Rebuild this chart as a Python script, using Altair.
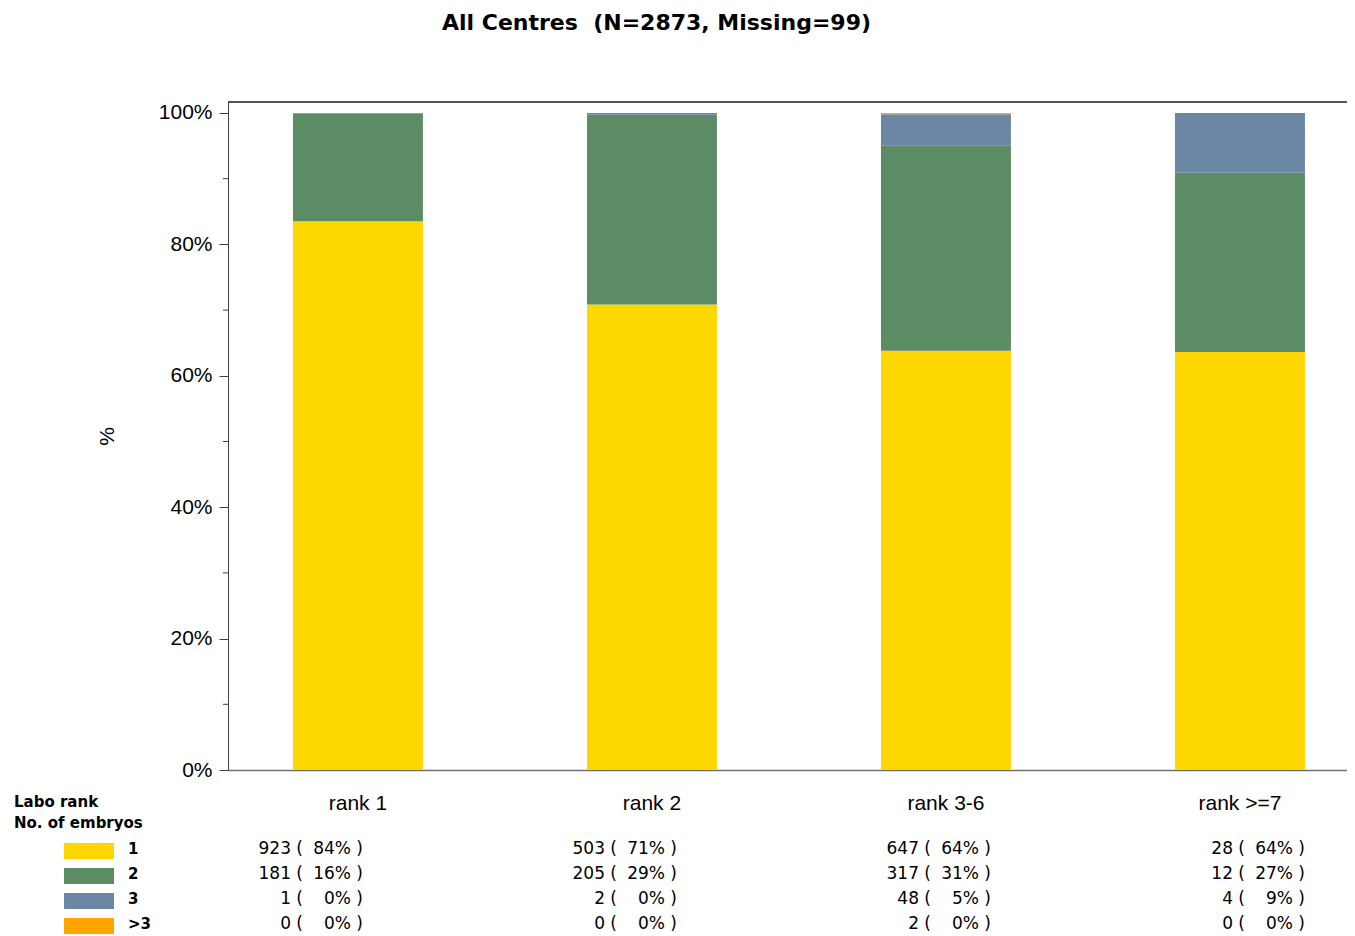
import altair as alt
import pandas as pd

# ---- data ----
categories = ["rank 1", "rank 2", "rank 3-6", "rank >=7"]
embryo_groups = ["1", "2", "3", ">3"]
counts_1 = [923, 503, 647, 28]
counts_2 = [181, 205, 317, 12]
counts_3 = [1, 2, 48, 4]
counts_gt3 = [0, 0, 2, 0]
colors = ["#FFD700", "#5B8C64", "#6C86A6", "#FFA500"]
title_text = "All Centres \u00a0(N=2873, Missing=99)"
header_text = "Labo rank\nNo. of embryos"
y_ticks = [0, 0.2, 0.4, 0.6, 0.8, 1.0]
y_minor = [0.1, 0.3, 0.5, 0.7, 0.9]

series = [counts_1, counts_2, counts_3, counts_gt3]
totals = [sum(s[i] for s in series) for i in range(len(categories))]
rows = []
for gi, (g, s) in enumerate(zip(embryo_groups, series)):
    for i, c in enumerate(categories):
        pct = int(100 * s[i] / totals[i] + 0.5)
        rows.append({
            "rank": c, "embryos": g, "count": s[i], "order": gi,
            "count_txt": f"{s[i]} (", "pct_txt": f"{pct}% )",
        })
df = pd.DataFrame(rows)
legend_df = pd.DataFrame({"embryos": embryo_groups})
minor_df = pd.DataFrame({"v": y_minor})
header_df = pd.DataFrame({"t": [header_text]})
one_df = pd.DataFrame({"k": [0]})

W, H = 1119, 668
YDOM = [0, 1.0167]
AX_FONT = "Liberation Sans"
TB_FONT = "DejaVu Sans"

x_enc = alt.X(
    "rank:N", sort=categories,
    scale=alt.Scale(paddingInner=0.558, paddingOuter=0.182, align=0.607),
    axis=alt.Axis(title=None, labelAngle=0, ticks=False, tickSize=0, labelPadding=22,
                  labelFontSize=21, labelFont=AX_FONT, labelColor="black",
                  domainColor="#707070", domainWidth=1.5),
)
# table columns (right edge of each column of the count table)
table_x = alt.X("rank:N", sort=categories,
                scale=alt.Scale(type="point", domain=categories, range=[135, 1077], padding=0),
                axis=None)
row_y = alt.Y("embryos:N", sort=embryo_groups,
              scale=alt.Scale(type="point", domain=embryo_groups, range=[747, 822], padding=0),
              axis=None)
color_enc = alt.Color("embryos:N", scale=alt.Scale(domain=embryo_groups, range=colors), legend=None)

bars = alt.Chart(df).mark_bar().encode(
    x=x_enc,
    y=alt.Y("count:Q", stack="normalize",
            scale=alt.Scale(domain=YDOM, nice=False, zero=True),
            axis=alt.Axis(values=y_ticks, format=".0%", tickSize=9, labelPadding=7,
                          labelFontSize=21, labelFont=AX_FONT, labelColor="black",
                          domainColor="#404040", tickColor="#404040", grid=False,
                          title="%", titleFont=AX_FONT, titleFontSize=21,
                          titleFontWeight="normal", titleAngle=-90, titleX=-121, titleY=334,
                          titleAlign="center", titleBaseline="middle", titleColor="black")),
    color=color_enc,
    order=alt.Order("order:Q", sort="ascending"),
)

minor = alt.Chart(minor_df).mark_rule(color="#404040").encode(
    y=alt.Y("v:Q", scale=alt.Scale(domain=YDOM, nice=False), axis=None),
    x=alt.value(-5), x2=alt.value(0),
)

top_line = alt.Chart(one_df).mark_rule(color="#222222", strokeWidth=1.5).encode(
    x=alt.value(0), x2=alt.value(W), y=alt.value(0),
)

count_txt = alt.Chart(df).mark_text(align="right", baseline="middle", dx=-60,
                                    fontSize=17, font=TB_FONT, color="black").encode(
    x=table_x, y=row_y, text="count_txt:N")
pct_txt = alt.Chart(df).mark_text(align="right", baseline="middle", dx=0,
                                  fontSize=17, font=TB_FONT, color="black").encode(
    x=table_x, y=row_y, text="pct_txt:N")

swatch = alt.Chart(legend_df).mark_point(
    shape="M-1,-0.32H1V0.32H-1Z", filled=True, size=2500, opacity=1, strokeWidth=0, yOffset=2
).encode(x=alt.value(-139), y=row_y, color=color_enc)

swatch_lbl = alt.Chart(legend_df).mark_text(align="left", baseline="middle", fontSize=15,
                                            font=TB_FONT, fontWeight="bold", color="black").encode(
    x=alt.value(-100), y=row_y, text="embryos:N")

header = alt.Chart(header_df).mark_text(align="left", baseline="alphabetic", fontSize=15,
                                        font=TB_FONT, fontWeight="bold", color="black",
                                        lineBreak="\n", lineHeight=20.5).encode(
    x=alt.value(-214), y=alt.value(705), text="t:N")

chart = alt.layer(
    bars, minor, top_line, count_txt, pct_txt, swatch, swatch_lbl, header
).resolve_scale(y="independent", x="independent").properties(
    width=W, height=H,
    title=alt.TitleParams(title_text, font=TB_FONT, fontSize=22, fontWeight="bold",
                          anchor="middle", dx=-131, baseline="alphabetic", offset=49,
                          color="black"),
    autosize=alt.AutoSizeParams(type="none"),
    padding={"left": 220, "top": 94, "right": 0, "bottom": 168},
).configure_view(stroke=None).configure(background="white")

chart.save("out.html", embed_options={"renderer": "svg", "actions": False})
